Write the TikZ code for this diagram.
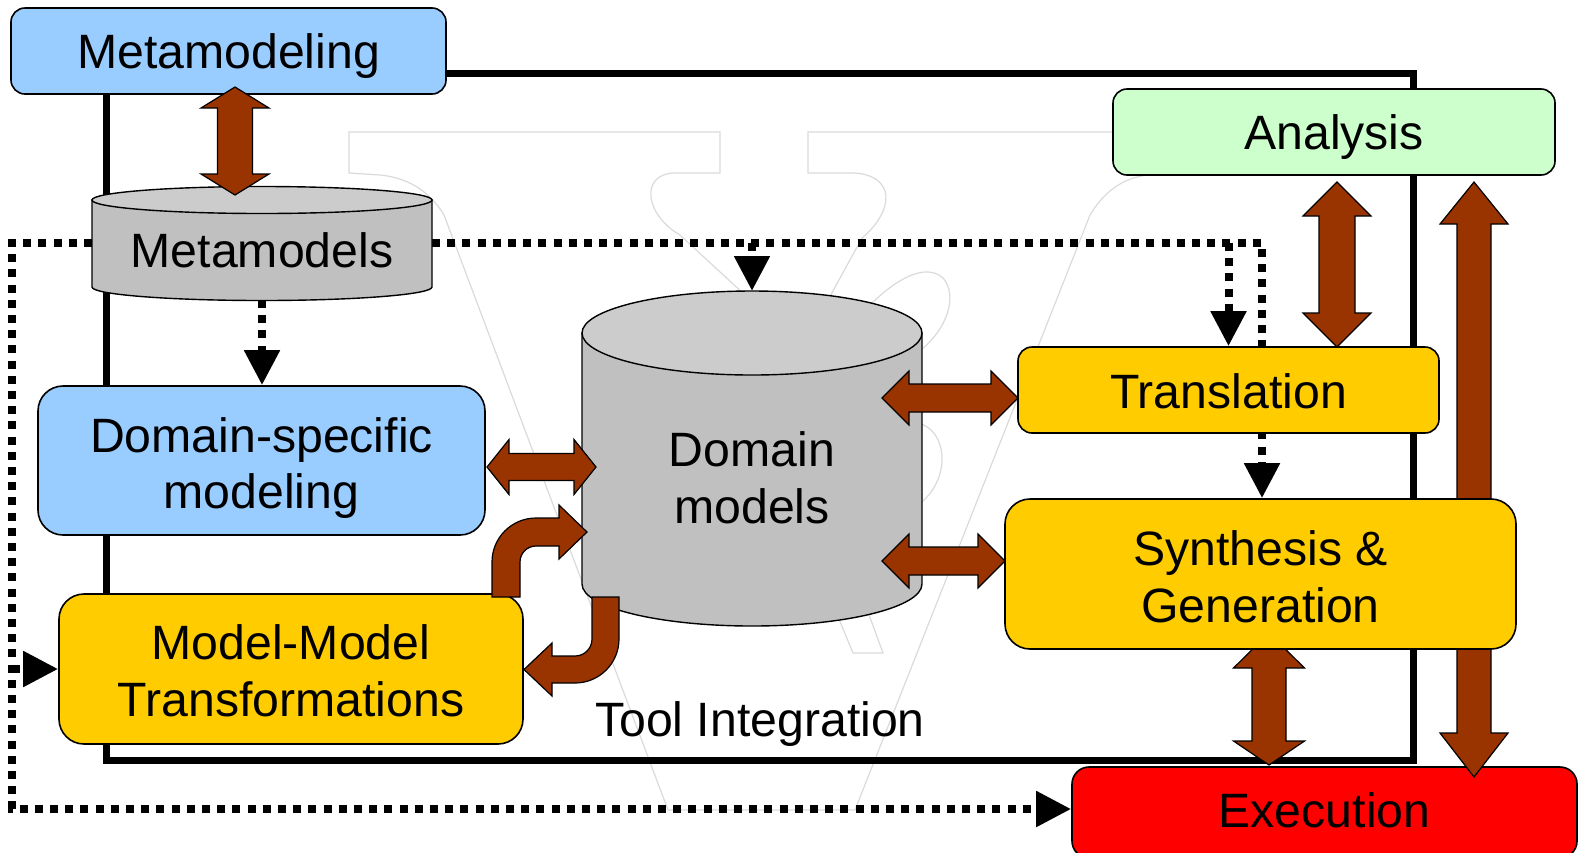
\documentclass[tikz,border=0pt]{standalone}
\usepackage{fontspec}
\setmainfont{Liberation Sans}
\usetikzlibrary{arrows.meta}
\pgfdeclarelayer{logo}
\pgfdeclarelayer{lines}
\pgfsetlayers{logo,lines,main}

\definecolor{metablue}{HTML}{99CCFF}
\definecolor{stepyellow}{HTML}{FFCC00}
\definecolor{anagreen}{HTML}{CCFFCC}
\definecolor{exred}{HTML}{FF0000}
\definecolor{rust}{HTML}{993300}
\definecolor{cylbody}{HTML}{C0C0C0}
\definecolor{cyltop}{HTML}{CCCCCC}
\definecolor{logogray}{HTML}{DADADA}

% vertical double block arrow: x, top tip y, bottom tip y, shaft half width, head half width, top head length, bottom head length
\newcommand{\vblock}[7]{%
  \filldraw[block] (#1,#2) -- ({#1+#5},{#2+#6}) -- ({#1+#4},{#2+#6}) -- ({#1+#4},{#3-#7}) -- ({#1+#5},{#3-#7}) -- (#1,#3)
    -- ({#1-#5},{#3-#7}) -- ({#1-#4},{#3-#7}) -- ({#1-#4},{#2+#6}) -- ({#1-#5},{#2+#6}) -- cycle;}
% horizontal double block arrow: y, left tip x, right tip x, shaft half width, head half width, left head length, right head length
\newcommand{\hblock}[7]{%
  \filldraw[block] (#2,#1) -- ({#2+#6},{#1-#5}) -- ({#2+#6},{#1-#4}) -- ({#3-#7},{#1-#4}) -- ({#3-#7},{#1-#5}) -- (#3,#1)
    -- ({#3-#7},{#1+#5}) -- ({#3-#7},{#1+#4}) -- ({#2+#6},{#1+#4}) -- ({#2+#6},{#1+#5}) -- cycle;}

\tikzset{
  lbl/.style={font=\fontsize{24.1pt}{28.3pt}\selectfont, align=center, inner sep=0pt},
  box/.style={draw=black, line width=0.8pt, inner sep=0pt},
  cyl/.style={draw=black, line width=0.7pt},
  block/.style={fill=rust, draw=black, line width=0.6pt, line join=miter},
  flow/.style={line width=4pt, dash pattern=on 4pt off 3.6pt, -{Triangle[length=17.5pt,width=17pt]}},
  frameline/.style={line width=3.5pt, line join=miter},
  logo/.style={draw=logogray, line width=0.6pt}
}

\begin{document}
\begin{tikzpicture}[x=0.5pt,y=-0.5pt]
\useasboundingbox (0,0) rectangle (1582,852);

% execution box sits under the long arrows
\node[box, fill=exred, rounded corners=8.5pt, minimum width=252.5pt, minimum height=45.5pt] (exe) at (1324.5,812.5) {};
\vblock{1474}{182}{777}{17}{34}{42}{44}
\vblock{1269}{633}{765}{17}{35.5}{35}{24}

% process boxes
\node[box, fill=metablue, rounded corners=7pt, minimum width=217.5pt, minimum height=43pt] (meta) at (228.5,51) {};
\node[box, fill=metablue, rounded corners=12.5pt, minimum width=223.5pt, minimum height=74.5pt] (dsm) at (261.5,460.5) {};
\node[box, fill=stepyellow, rounded corners=12.5pt, minimum width=232pt, minimum height=75pt] (mmt) at (291,669) {};
\node[box, fill=stepyellow, rounded corners=7pt, minimum width=210.5pt, minimum height=43pt] (trans) at (1228.5,390) {};
\node[box, fill=stepyellow, rounded corners=12.5pt, minimum width=255.5pt, minimum height=75pt] (synth) at (1260.5,574) {};
\node[box, fill=anagreen, rounded corners=7pt, minimum width=221pt, minimum height=43pt] (ana) at (1334,132) {};

% metamodel store
\filldraw[cyl, fill=cylbody] (92,200) -- (92,287) arc[start angle=180,end angle=0,x radius=170,y radius=13.5] -- (432,200) -- cycle;
\filldraw[cyl, fill=cyltop] (262,200) ellipse [x radius=170, y radius=13.5];
% domain model store
\filldraw[cyl, fill=cylbody] (582,333) -- (582,584) arc[start angle=180,end angle=0,x radius=170,y radius=42] -- (922,333) -- cycle;
\filldraw[cyl, fill=cyltop] (752,333) ellipse [x radius=170, y radius=42];

\coordinate (mmsW) at (92,243);
\coordinate (mmsE) at (432,243);
\coordinate (mmsS) at (262,300);
\coordinate (dmN) at (752,291);

% labels
\node[lbl] (metaT) at (228.5,56.5) {Metamodeling};
\node[lbl] (mms) at (262,250.5) {Metamodels};
\node[lbl] (dsmT) at (261.5,468) {Domain-specific\\modeling};
\node[lbl] (dm) at (752,478) {Domain\\models};
\node[lbl] (mmtT) at (291,670.5) {Model-Model\\Transformations};
\node[lbl] (transT) at (1228.5,391.5) {Translation};
\node[lbl] (synthT) at (1260.5,576.5) {Synthesis \&\\Generation};
\node[lbl] (anaT) at (1334,137.5) {Analysis};
\node[lbl] (exeT) at (1324.5,810.5) {Execution};
\node[lbl] (tool) at (760,724) {Tool Integration};

% two-way exchanges
\vblock{235}{87}{195}{17.5}{34}{21}{21}
\hblock{467}{487}{596}{13.5}{27.5}{22}{22}
\hblock{398}{882}{1018}{14}{27}{27}{27}
\hblock{561}{882}{1005}{14}{27}{27}{27}
\vblock{1337}{182}{347}{18}{34}{34}{34}

% transformation round trip
\filldraw[block] (492,597) -- (492,562) arc[start angle=180,end angle=270,radius=44] -- (559,518) -- (559,505) -- (587,532)
  -- (559,559) -- (559,546) -- (536,546) arc[start angle=270,end angle=180,radius=16] -- (520,597) -- cycle;
\filldraw[block] (592,597) -- (619,597) -- (619,639) arc[start angle=0,end angle=90,radius=44] -- (552,683) -- (552,696)
  -- (524,669.5) -- (552,643) -- (552,656) -- (575,656) arc[start angle=90,end angle=0,radius=17] -- cycle;

\begin{pgfonlayer}{lines}
  \draw[frameline] (106,73) rectangle (1413,760);
  \coordinate (loopTL) at (12,243);
  \coordinate (loopBL) at (12,809);
  \coordinate (topR) at (1262,243);
  \draw[flow] (mmsW) -- (loopTL) -- (loopBL) -- (loopBL -| exe.west);
  \draw[flow] (loopBL |- mmt.west) -- (mmt.west);
  \draw[flow] (mmsE) -- (topR) -- (topR |- synth.north);
  \draw[flow] (trans.north |- mmsE) -- (trans.north);
  \draw[flow] (dmN |- mmsE) -- (dmN);
  \draw[flow] (mmsS) -- (mmsS |- dsm.north);
\end{pgfonlayer}

\begin{pgfonlayer}{logo}
  \draw[logo] (673,173) -- (720,173) -- (720,132) -- (349,132) -- (349,173) -- (380,175)
    .. controls (412,178) and (432,195) .. (444,215) -- (668,810) -- (855,810) -- (1090,215)
    .. controls (1102,195) and (1120,178) .. (1148,175) -- (1179,173) -- (1179,132) -- (808,132) -- (808,173) -- (855,173);
  \draw[logo] (673,173) .. controls (640,175) and (645,215) .. (680,235) -- (745,295);
  \draw[logo] (855,173) .. controls (895,176) and (895,210) .. (862,238) -- (828,300);
  \draw[logo] (870,305) .. controls (895,280) and (925,262) .. (943,278) .. controls (958,295) and (948,330) .. (918,352);
  \draw[logo] (918,423) .. controls (948,430) and (952,480) .. (918,505);
  \draw[logo] (836,612) -- (853,653) -- (883,653) -- (868,612);
\end{pgfonlayer}
\end{tikzpicture}
\end{document}
